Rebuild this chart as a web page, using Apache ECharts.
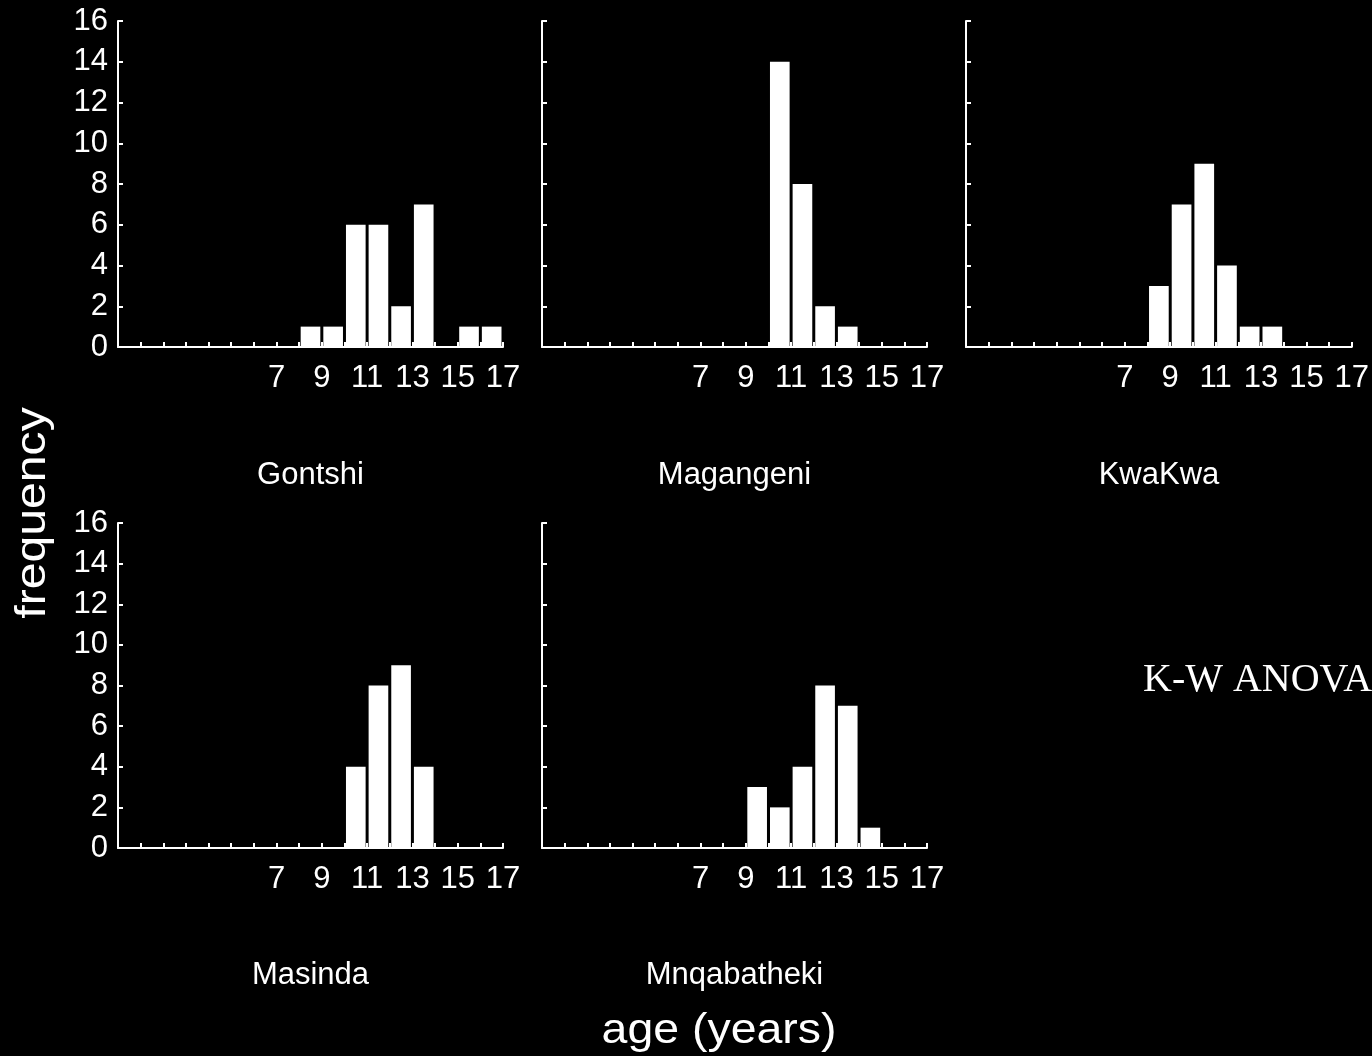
<!DOCTYPE html>
<html>
<head>
<meta charset="utf-8">
<style>
html,body{margin:0;padding:0;background:#000;}
#chart{width:1372px;height:1056px;}
</style>
<script src="https://cdn.jsdelivr.net/npm/echarts@6/dist/echarts.min.js"></script>
</head>
<body>
<div id="chart"></div>
<script>
// ---- data ----
var binStarts = [8, 9, 10, 11, 12, 13, 14, 15, 16];   // age bin lower edges (years), width 1
var sites = ['Gontshi', 'Magangeni', 'KwaKwa', 'Masinda', 'Mnqabatheki'];
var gontshi     = [1, 1, 6, 6, 2, 7, 0, 1, 1];
var magangeni   = [0, 0, 14, 8, 2, 1, 0, 0, 0];
var kwakwa      = [3, 7, 9, 4, 1, 1, 0, 0, 0];
var masinda     = [0, 0, 4, 8, 9, 4, 0, 0, 0];
var mnqabatheki = [0, 3, 2, 4, 8, 7, 1, 0, 0];
var xTickLabels = [7, 9, 11, 13, 15, 17];
var yTickLabels = [0, 2, 4, 6, 8, 10, 12, 14, 16];
var xLabel = 'age (years)';
var yLabel = 'frequency';
var note = 'K-W ANOVA';

var siteCounts = [gontshi, magangeni, kwakwa, masinda, mnqabatheki];

// ---- layout ----
var FONT = '"Liberation Sans", Arial, sans-serif';
var panels = [
  {left: 118, top: 21,  width: 385, height: 326, showY: true},
  {left: 542, top: 21,  width: 385, height: 326, showY: false},
  {left: 966, top: 21,  width: 386, height: 326, showY: false},
  {left: 118, top: 523, width: 385, height: 325, showY: true},
  {left: 542, top: 523, width: 385, height: 325, showY: false}
];

var grids = [], xAxes = [], yAxes = [], series = [], graphics = [];
panels.forEach(function (p, i) {
  grids.push({left: p.left, top: p.top, width: p.width, height: p.height, containLabel: false});
  xAxes.push({
    type: 'value', gridIndex: i, min: 0, max: 17, interval: 1,
    axisLine: {show: true, lineStyle: {color: '#fff', width: 2}},
    axisTick: {show: true, inside: true, length: 5, lineStyle: {color: '#fff', width: 2}},
    splitLine: {show: false},
    axisLabel: {
      show: true, color: '#fff', fontFamily: FONT, fontSize: 31, margin: 16,
      showMinLabel: true, showMaxLabel: true, hideOverlap: false,
      formatter: function (v) { return xTickLabels.indexOf(v) >= 0 ? String(v) : ''; }
    }
  });
  yAxes.push({
    type: 'value', gridIndex: i, min: 0, max: 16, interval: 2,
    axisLine: {show: true, lineStyle: {color: '#fff', width: 2}},
    axisTick: {show: true, inside: true, length: 5, lineStyle: {color: '#fff', width: 2}},
    splitLine: {show: false},
    axisLabel: {
      show: p.showY, color: '#fff', fontFamily: FONT, fontSize: 31, margin: 10,
      formatter: function (v) { return yTickLabels.indexOf(v) >= 0 ? String(v) : ''; }
    }
  });
  var data = binStarts.map(function (b, k) { return [b, b + 1, siteCounts[i][k]]; });
  series.push({
    type: 'custom', xAxisIndex: i, yAxisIndex: i, data: data,
    encode: {x: [0, 1], y: 2},
    renderItem: function (params, api) {
      var x0 = api.value(0), x1 = api.value(1), v = api.value(2);
      if (!v) return null;
      var p0 = api.coord([x0, 0]);
      var p1 = api.coord([x1, v]);
      return {
        type: 'rect',
        shape: {x: p0[0] + 1.5, y: p1[1], width: p1[0] - p0[0] - 3, height: p0[1] - p1[1]},
        style: {fill: '#ffffff'}
      };
    }
  });
  graphics.push({
    type: 'text', x: p.left + p.width / 2, y: (i < 3 ? 475 : 975),
    style: {text: sites[i], fill: '#fff', font: '31px ' + FONT, align: 'center', verticalAlign: 'middle'}
  });
});

graphics.push({
  type: 'text', x: 719, y: 1031, scaleX: 1.08,
  style: {text: xLabel, fill: '#fff', font: '43px ' + FONT, align: 'center', verticalAlign: 'middle'}
});
graphics.push({
  type: 'text', x: 33, y: 513, rotation: Math.PI / 2, scaleX: 1.12,
  style: {text: yLabel, fill: '#fff', font: '43px ' + FONT, align: 'center', verticalAlign: 'middle'}
});
graphics.push({
  type: 'text', x: 1143, y: 680,
  style: {text: note, fill: '#fff', font: '40px "Liberation Serif", "Times New Roman", serif', align: 'left', verticalAlign: 'middle'}
});

var chart = echarts.init(document.getElementById('chart'), null, {renderer: 'canvas'});
chart.setOption({
  backgroundColor: '#000',
  animation: false,
  grid: grids,
  xAxis: xAxes,
  yAxis: yAxes,
  series: series,
  graphic: graphics
});
</script>
</body>
</html>
